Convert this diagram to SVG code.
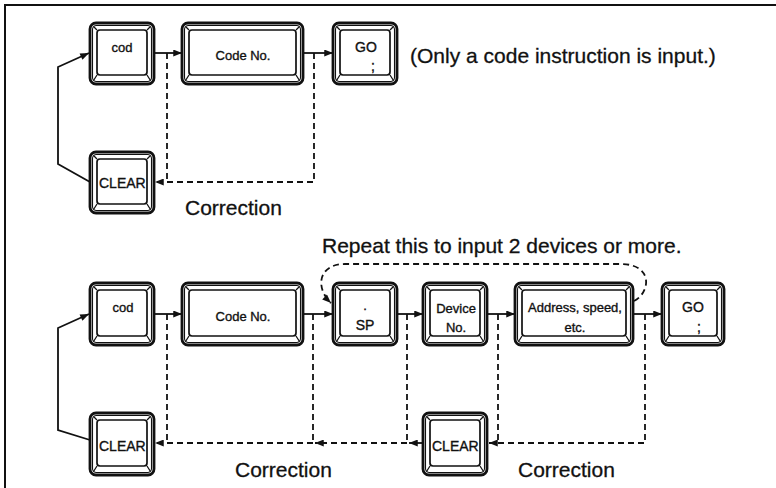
<svg xmlns="http://www.w3.org/2000/svg" width="776" height="488" viewBox="0 0 776 488">
  <style>
    .frame { fill: none; stroke: #111; stroke-width: 2; }
    .outer { fill: #fff; stroke: #111; stroke-width: 2.8; }
    .rim { fill: none; stroke: #111; stroke-width: 1.1; }
    .face { fill: #fff; stroke: #111; stroke-width: 1.7; }
    .bevel { fill: none; stroke: #111; stroke-width: 1.3; }
    .flow { fill: none; stroke: #111; stroke-width: 1.8; }
    .dash { fill: none; stroke: #111; stroke-width: 1.8; stroke-dasharray: 6 4; }
    .key { font-family: "Liberation Sans", Arial, sans-serif; font-size: 13px; fill: #111; stroke: #111; stroke-width: 0.35; text-anchor: middle; }
    .label { font-family: "Liberation Sans", Arial, sans-serif; font-size: 21px; fill: #111; stroke: #111; stroke-width: 0.3; }
  </style>
  <defs>
    <marker id="arrow" viewBox="0 0 10 8" refX="10" refY="4" markerWidth="10" markerHeight="7" markerUnits="userSpaceOnUse" orient="auto">
      <path d="M0,0 L10,4 L0,8 Z" fill="#111"/>
    </marker>
  </defs>

  <!-- panel frame -->
  <path class="frame" d="M5,488 V5 H776"/>

  <!-- keycaps: outer shell, rim, face and corner bevels -->
  <g id="cod-1">
    <rect class="outer" x="90" y="23" width="64" height="61" rx="6"/>
    <rect class="rim" x="92.5" y="25.5" width="59" height="56" rx="4"/>
    <rect class="face" x="97" y="30" width="50" height="45" rx="3"/>
    <path class="bevel" d="M93.5,26.5 L97,30 M150.5,26.5 L147,30 M93.5,80.5 L97,75 M150.5,80.5 L147,75"/>
    <text class="key" x="122" y="52">cod</text>
  </g>
  <g id="code-1">
    <rect class="outer" x="182" y="23" width="121" height="61" rx="6"/>
    <rect class="rim" x="184.5" y="25.5" width="116" height="56" rx="4"/>
    <rect class="face" x="189" y="30" width="107" height="45" rx="3"/>
    <path class="bevel" d="M185.5,26.5 L189,30 M299.5,26.5 L296,30 M185.5,80.5 L189,75 M299.5,80.5 L296,75"/>
    <text class="key" x="243" y="60">Code No.</text>
  </g>
  <g id="go-1">
    <rect class="outer" x="333" y="23" width="64" height="61" rx="6"/>
    <rect class="rim" x="335.5" y="25.5" width="59" height="56" rx="4"/>
    <rect class="face" x="340" y="30" width="50" height="45" rx="3"/>
    <path class="bevel" d="M336.5,26.5 L340,30 M393.5,26.5 L390,30 M336.5,80.5 L340,75 M393.5,80.5 L390,75"/>
    <text class="key" x="366" y="52" style="font-size:14px">GO</text>
    <text class="key" x="373" y="71" style="font-size:14px">;</text>
  </g>
  <g id="clear-1">
    <rect class="outer" x="90" y="152" width="64" height="61" rx="6"/>
    <rect class="rim" x="92.5" y="154.5" width="59" height="56" rx="4"/>
    <rect class="face" x="97" y="159" width="50" height="45" rx="3"/>
    <path class="bevel" d="M93.5,155.5 L97,159 M150.5,155.5 L147,159 M93.5,209.5 L97,204 M150.5,209.5 L147,204"/>
    <text class="key" x="99" y="188" style="font-size:14px;text-anchor:start">CLEAR</text>
  </g>

  <g id="cod-2">
    <rect class="outer" x="90" y="283" width="64" height="62" rx="6"/>
    <rect class="rim" x="92.5" y="285.5" width="59" height="57" rx="4"/>
    <rect class="face" x="97" y="290" width="50" height="46" rx="3"/>
    <path class="bevel" d="M93.5,286.5 L97,290 M150.5,286.5 L147,290 M93.5,341.5 L97,336 M150.5,341.5 L147,336"/>
    <text class="key" x="123" y="312">cod</text>
  </g>
  <g id="code-2">
    <rect class="outer" x="182" y="283" width="121" height="62" rx="6"/>
    <rect class="rim" x="184.5" y="285.5" width="116" height="57" rx="4"/>
    <rect class="face" x="189" y="290" width="107" height="46" rx="3"/>
    <path class="bevel" d="M185.5,286.5 L189,290 M299.5,286.5 L296,290 M185.5,341.5 L189,336 M299.5,341.5 L296,336"/>
    <text class="key" x="243" y="321">Code No.</text>
  </g>
  <g id="sp">
    <rect class="outer" x="333" y="283" width="64" height="62" rx="6"/>
    <rect class="rim" x="335.5" y="285.5" width="59" height="57" rx="4"/>
    <rect class="face" x="340" y="290" width="50" height="46" rx="3"/>
    <path class="bevel" d="M336.5,286.5 L340,290 M393.5,286.5 L390,290 M336.5,341.5 L340,336 M393.5,341.5 L390,336"/>
    <text class="key" x="365" y="310">.</text>
    <text class="key" x="365" y="330" style="font-size:14px">SP</text>
  </g>
  <g id="device-no">
    <rect class="outer" x="423" y="283" width="64" height="62" rx="6"/>
    <rect class="rim" x="425.5" y="285.5" width="59" height="57" rx="4"/>
    <rect class="face" x="430" y="290" width="50" height="46" rx="3"/>
    <path class="bevel" d="M426.5,286.5 L430,290 M483.5,286.5 L480,290 M426.5,341.5 L430,336 M483.5,341.5 L480,336"/>
    <text class="key" x="456" y="313">Device</text>
    <text class="key" x="456" y="332">No.</text>
  </g>
  <g id="address">
    <rect class="outer" x="515" y="283" width="118" height="62" rx="6"/>
    <rect class="rim" x="517.5" y="285.5" width="113" height="57" rx="4"/>
    <rect class="face" x="522" y="290" width="104" height="46" rx="3"/>
    <path class="bevel" d="M518.5,286.5 L522,290 M629.5,286.5 L626,290 M518.5,341.5 L522,336 M629.5,341.5 L626,336"/>
    <text class="key" x="575" y="312">Address, speed,</text>
    <text class="key" x="575" y="332">etc.</text>
  </g>
  <g id="go-2">
    <rect class="outer" x="662" y="283" width="62" height="62" rx="6"/>
    <rect class="rim" x="664.5" y="285.5" width="57" height="57" rx="4"/>
    <rect class="face" x="669" y="290" width="48" height="46" rx="3"/>
    <path class="bevel" d="M665.5,286.5 L669,290 M720.5,286.5 L717,290 M665.5,341.5 L669,336 M720.5,341.5 L717,336"/>
    <text class="key" x="693" y="312" style="font-size:14px">GO</text>
    <text class="key" x="699" y="332" style="font-size:14px">;</text>
  </g>
  <g id="clear-2">
    <rect class="outer" x="90" y="413" width="64" height="62" rx="6"/>
    <rect class="rim" x="92.5" y="415.5" width="59" height="57" rx="4"/>
    <rect class="face" x="97" y="420" width="50" height="46" rx="3"/>
    <path class="bevel" d="M93.5,416.5 L97,420 M150.5,416.5 L147,420 M93.5,471.5 L97,466 M150.5,471.5 L147,466"/>
    <text class="key" x="99" y="451" style="font-size:14px;text-anchor:start">CLEAR</text>
  </g>
  <g id="clear-3">
    <rect class="outer" x="423" y="413" width="64" height="62" rx="6"/>
    <rect class="rim" x="425.5" y="415.5" width="59" height="57" rx="4"/>
    <rect class="face" x="430" y="420" width="50" height="46" rx="3"/>
    <path class="bevel" d="M426.5,416.5 L430,420 M483.5,416.5 L480,420 M426.5,471.5 L430,466 M483.5,471.5 L480,466"/>
    <text class="key" x="432" y="451" style="font-size:14px;text-anchor:start">CLEAR</text>
  </g>

  <!-- connectors -->
  <g id="connectors">
    <!-- upper sequence -->
    <path class="flow" d="M154,53 H182" marker-end="url(#arrow)"/>
    <path class="flow" d="M303,53 H333" marker-end="url(#arrow)"/>
    <path class="flow" d="M90,182 L58,164 V67 L89,53" marker-end="url(#arrow)"/>
    <path class="dash" d="M167,53 V182"/>
    <path class="dash" d="M314,53 V182 H155" marker-end="url(#arrow)"/>

    <!-- lower sequence -->
    <path class="flow" d="M154,314 H182" marker-end="url(#arrow)"/>
    <path class="flow" d="M303,314 H333" marker-end="url(#arrow)"/>
    <path class="flow" d="M397,314 H423" marker-end="url(#arrow)"/>
    <path class="flow" d="M487,314 H515" marker-end="url(#arrow)"/>
    <path class="flow" d="M633,314 H662" marker-end="url(#arrow)"/>
    <path class="flow" d="M90,440 L58,430 V328 L89,314" marker-end="url(#arrow)"/>
    <path class="dash" d="M167,314 V443"/>
    <path class="dash" d="M313,314 V443"/>
    <path class="dash" d="M407,314 V443"/>
    <path class="dash" d="M498,314 V443"/>
    <path class="dash" d="M645,314 V443 H489" marker-end="url(#arrow)"/>
    <path class="flow" d="M423,443 H409" marker-end="url(#arrow)"/>
    <path class="dash" d="M407,443 H315" marker-end="url(#arrow)"/>
    <path class="dash" d="M313,443 H155" marker-end="url(#arrow)"/>

    <!-- repeat loop -->
    <path class="dash" d="M634,301 C650,293 654,265 622,264 L345,264 C318,264 315,288 331,303" marker-end="url(#arrow)"/>
  </g>

  <!-- captions -->
  <text class="label" x="410" y="63">(Only a code instruction is input.)</text>
  <text class="label" x="185" y="215">Correction</text>
  <text class="label" x="322" y="253">Repeat this to input 2 devices or more.</text>
  <text class="label" x="235" y="477">Correction</text>
  <text class="label" x="518" y="477">Correction</text>
</svg>
